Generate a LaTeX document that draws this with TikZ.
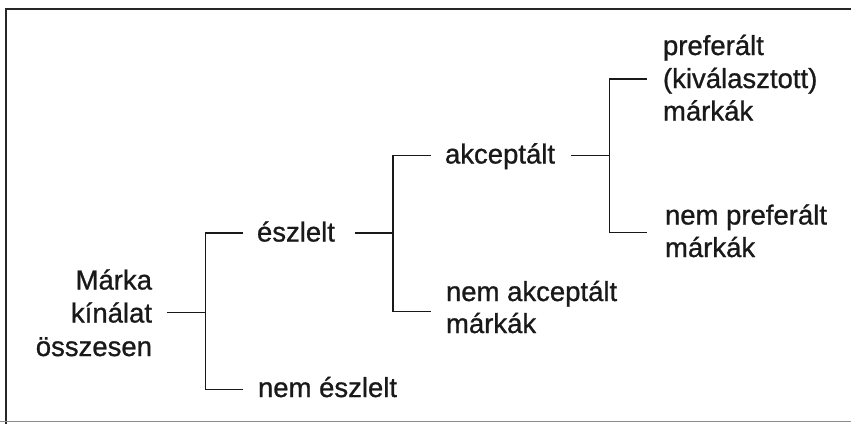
\documentclass[tikz,border=0pt]{standalone}
\usepackage{fontspec}
\setmainfont{Liberation Sans}
\newfontfamily\lblfont{Liberation Sans}[FakeBold=0.9]
\begin{document}
\begin{tikzpicture}[x=1pt,y=-1pt,
  lbl/.style={inner sep=0pt, outer sep=0pt, anchor=base west, font=\lblfont\fontsize{27.5}{33}\selectfont, text=black!90},
  lblr/.style={lbl, anchor=base east},
  conn/.style={line width=1.5pt, draw=black!90},
  framel/.style={line width=1.8pt, draw=black!85},
  frameb/.style={line width=1.2pt, draw=black!45}]
\useasboundingbox (0,0) rectangle (851,424);
% frame
\coordinate (fTR) at (851,9);
\coordinate (fTL) at (6,9);
\coordinate (fBL) at (6,424);
\coordinate (fB1) at (0,421.5);
\coordinate (fB2) at (851,421.5);
\draw[framel] (fTR) -- (fTL) -- (fBL);
\draw[frameb] (fB1) -- (fB2);
% labels
\node[lblr] (m1) at (152,289.5) {Márka};
\node[lblr] (m2) at (152,322.5) {kínálat};
\node[lblr] (m3) at (152,356) {összesen};
\node[lbl] (esz) at (257,241.5) {észlelt};
\node[lbl] (nesz) at (258,397) {nem észlelt};
\node[lbl] (akc) at (445,163.5) {akceptált};
\node[lbl] (nakc1) at (446,301) {nem akceptált};
\node[lbl] (nakc2) at (446,333) {márkák};
\node[lbl] (pref1) at (663,55) {preferált};
\node[lbl] (pref2) at (663,88) {(kiválasztott)};
\node[lbl] (pref3) at (663,120.5) {márkák};
\node[lbl] (npref1) at (665,224.5) {nem preferált};
\node[lbl] (npref2) at (665,257) {márkák};
% level 1 bracket
\coordinate (c0s) at (166.5,312.5);
\coordinate (j0) at (205.5,312.5);
\coordinate (j0t) at (205.5,233);
\coordinate (j0b) at (205.5,389.3);
\coordinate (e0t) at (243,233);
\coordinate (e0b) at (243,389.3);
\draw[conn] (c0s) -- (j0);
\draw[conn] (e0t) -- (j0t) -- (j0b) -- (e0b);
% level 2 bracket
\coordinate (c1s) at (355,233);
\coordinate (j1) at (393,233);
\coordinate (j1t) at (393,155.5);
\coordinate (j1b) at (393,311.7);
\coordinate (e1t) at (431,155.5);
\coordinate (e1b) at (431,311.7);
\draw[conn] (c1s) -- (j1);
\draw[conn] (e1t) -- (j1t) -- (j1b) -- (e1b);
% level 3 bracket
\coordinate (c2s) at (571,155.5);
\coordinate (j2) at (609.5,155.5);
\coordinate (j2t) at (609.5,79);
\coordinate (j2b) at (609.5,232.3);
\coordinate (e2t) at (646.5,79);
\coordinate (e2b) at (646.5,232.3);
\draw[conn] (c2s) -- (j2);
\draw[conn] (e2t) -- (j2t) -- (j2b) -- (e2b);
\end{tikzpicture}
\end{document}
